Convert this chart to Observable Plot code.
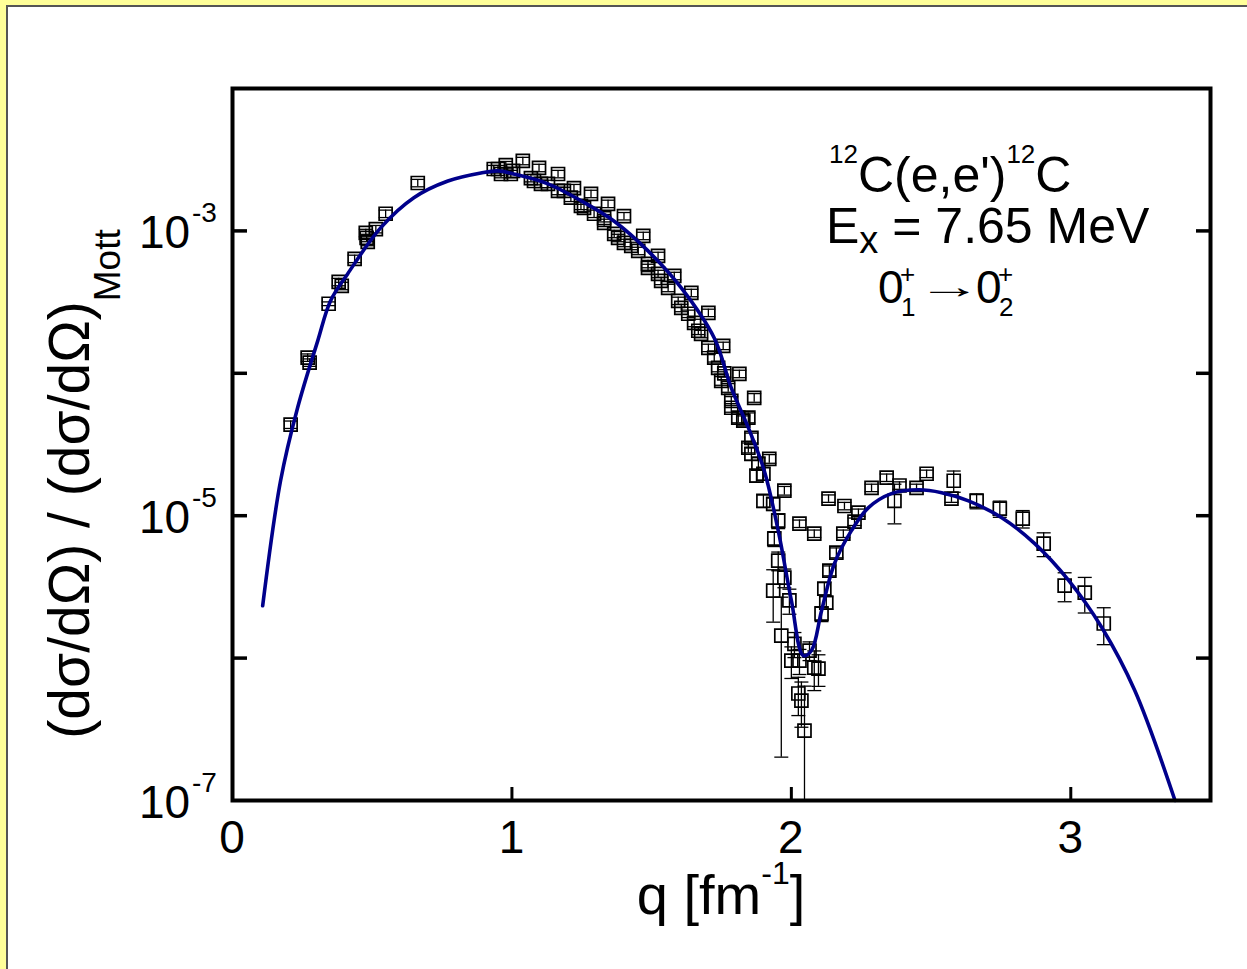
<!DOCTYPE html>
<html><head><meta charset="utf-8">
<script src="https://cdn.jsdelivr.net/npm/d3@7"></script>
<script src="https://cdn.jsdelivr.net/npm/@observablehq/plot@0.6"></script>
<style>
html,body{margin:0;padding:0;}
body{width:1247px;height:969px;background:#ffff99;position:relative;overflow:hidden;font-family:"Liberation Sans",Arial,sans-serif;}
#panel{position:absolute;left:6px;top:5px;right:0;bottom:0;background:#fff;border-left:2px solid #555;border-top:2px solid #555;}
#chart{position:absolute;left:0;top:0;}
</style></head><body><div id="panel"></div><div id="chart"></div>
<script>
// ---- data: measured points q [fm^-1], ratio, relative error ----
const qData = [0.208,0.269,0.276,0.344,0.380,0.391,0.437,0.477,0.480,0.484,0.513,0.548,0.663,
 0.950,0.961,0.978,1.004,1.039,1.068,1.097,1.129,1.165,1.186,1.222,1.247,1.283,1.330,1.344,1.366,1.401,1.427,1.470,1.487,1.523,1.534,1.581,1.606,1.642,1.652,1.677,1.703,
 1.724,1.749,1.756,1.785,1.814,1.810,1.846,1.867,1.857,1.857,1.875,1.900,1.921,1.975,1.900,1.935,1.953,1.939,1.953,1.975,1.935,1.993,1.964,2.011,2.000,2.029,2.082,2.025,2.036,2.047,
 2.029,2.082,2.133,2.190,2.240,2.287,2.341,2.387,2.448,2.484,2.369,2.581,2.573,2.663,2.746,2.828,2.903,2.978,3.050,3.118,
 2.186,2.161,2.136,2.118,2.125,2.108,2.065,2.097,2.226,
 0.935,0.996,1.079,1.104,1.165,1.211,1.258,1.294,1.330,1.380,1.401,1.452,1.487,1.523,1.559,1.595,1.631,1.667,1.703,1.738,1.774,1.760,1.785,1.828,1.846,1.882];
const yData = [4.36e-5,1.29e-4,1.19e-4,3.08e-4,4.38e-4,4.11e-4,6.37e-4,9.68e-4,8.93e-4,8.37e-4,1.03e-3,1.32e-3,2.17e-3,
 2.72e-3,2.51e-3,2.90e-3,2.64e-3,3.10e-3,2.35e-3,2.77e-3,2.14e-3,2.51e-3,1.91e-3,2.00e-3,1.50e-3,1.82e-3,1.23e-3,1.55e-3,9.53e-4,1.27e-3,7.85e-4,9.23e-4,5.50e-4,6.68e-4,4.46e-4,4.83e-4,2.88e-4,3.67e-4,2.26e-4,1.89e-4,2.66e-4,
 1.29e-4,8.86e-5,1.56e-4,6.41e-5,9.91e-5,4.88e-5,4.88e-5,6.73e-5,3.52e-5,2.72e-5,1.91e-5,1.97e-5,2.51e-5,1.50e-5,1.27e-5,1.21e-5,9.22e-6,6.90e-6,4.83e-6,3.67e-6,2.98e-6,2.54e-6,1.44e-6,1.26e-6,9.59e-7,9.59e-7,8.57e-7,5.64e-7,5.03e-7,3.10e-7,
 8.79e-6,7.48e-6,1.32e-5,1.17e-5,1.05e-5,1.57e-5,1.85e-5,1.63e-5,1.57e-5,1.97e-5,1.27e-5,1.76e-5,1.32e-5,1.27e-5,1.12e-5,9.53e-6,6.37e-6,3.23e-6,2.88e-6,1.75e-6,
 7.48e-6,5.50e-6,4.11e-6,3.08e-6,2.45e-6,2.05e-6,1.13e-6,8.44e-7,9.08e-6,
 2.72e-3,2.51e-3,2.24e-3,2.14e-3,1.91e-3,1.71e-3,1.45e-3,1.32e-3,1.14e-3,8.93e-4,8.24e-4,7.24e-4,5.86e-4,4.99e-4,3.98e-4,3.23e-4,2.62e-4,1.99e-4,1.51e-4,1.09e-4,7.91e-5,1.00e-4,5.73e-5,4.65e-5,3.00e-5,2.32e-5];
const relErr = [0.06,0.06,0.06,0.03,0.06,0.06,0.06,0.06,0.06,0.06,0.06,0.06,0.06,
 0.06,0.06,0.06,0.06,0.06,0.06,0.06,0.06,0.06,0.06,0.06,0.06,0.06,0.06,0.06,0.06,0.06,0.06,0.06,0.06,0.06,0.06,0.06,0.06,0.06,0.06,0.06,0.06,
 0.07,0.07,0.06,0.07,0.06,0.08,0.08,0.07,0.08,0.10,0.10,0.10,0.07,0.07,0.10,0.10,0.12,0.12,0.15,0.15,0.40,0.20,0.86,0.20,0.25,0.20,0.31,0.30,0.35,1.05,
 0.06,0.06,0.06,0.06,0.06,0.06,0.06,0.06,0.06,0.06,0.31,0.17,0.06,0.12,0.13,0.14,0.19,0.23,0.28,0.29,
 0.06,0.08,0.08,0.10,0.10,0.12,0.15,0.25,0.06,
 0.06,0.06,0.06,0.06,0.06,0.06,0.06,0.06,0.06,0.06,0.06,0.06,0.06,0.06,0.06,0.06,0.06,0.06,0.06,0.06,0.07,0.06,0.07,0.08,0.08,0.10];

// ---- theory curve ----
const qTheory = [0.108,0.172,0.233,0.305,0.351,0.412,0.530,0.649,0.771,0.889,0.950,1.007,1.129,1.247,1.366,1.487,1.606,1.724,1.785,1.846,1.903,1.953,2.000,2.043,2.072,2.108,2.154,2.215,2.276,2.358,2.455,2.538,2.634,2.753,2.871,2.993,3.111,3.229,3.373];
const yTheory = [2.33e-6,1.76e-5,5.73e-5,1.69e-4,3.23e-4,4.99e-4,1.05e-3,1.71e-3,2.24e-3,2.55e-3,2.64e-3,2.51e-3,2.14e-3,1.63e-3,1.17e-3,7.24e-4,3.98e-4,1.77e-4,7.91e-5,4.15e-5,2.07e-5,7.85e-6,2.54e-6,1.04e-6,1.13e-6,2.15e-6,4.60e-6,7.85e-6,1.14e-5,1.43e-5,1.52e-5,1.45e-5,1.27e-5,9.68e-6,6.37e-6,3.50e-6,1.64e-6,5.92e-7,1.0e-7];

// ---- axes ----
const xTicks = [0,1,2,3];
const yTickMarks = [1e-6,1e-5,1e-4,1e-3];
const yTickLabels = [1e-7,1e-5,1e-3];

const FONT = '"Liberation Sans", Arial, sans-serif';
const yMin = 1e-7;
const pts = qData.map((q,i)=>({q, y:yData[i], lo:Math.max(yData[i]*(1-relErr[i]), yMin), hi:yData[i]*(1+relErr[i]), clip: yData[i]*(1-relErr[i]) <= yMin}));
const theory = qTheory.map((q,i)=>({q, y:yTheory[i]}));

const boxSym = {draw(ctx,size){const s=Math.sqrt(size/Math.PI); ctx.rect(-s,-s,2*s,2*s);}};
const capSym = {draw(ctx,size){const s=Math.sqrt(size/Math.PI); ctx.moveTo(-s,0); ctx.lineTo(s,0);}};

const chart = Plot.plot({
  width:1247, height:969,
  marginLeft:232, marginRight:37, marginTop:88, marginBottom:169,
  style:{background:"transparent", fontFamily:FONT, overflow:"visible"},
  x:{domain:[0,3.5], label:null},
  y:{type:"log", domain:[1e-7,1e-2], label:null},
  marks:[
    Plot.ruleX(pts,{x:"q", y1:"lo", y2:"hi", stroke:"black", strokeWidth:1.3}),
    Plot.dot(pts.filter(d=>!d.clip),{x:"q", y:"lo", symbol:capSym, r:7, stroke:"black", strokeWidth:1.3}),
    Plot.dot(pts,{x:"q", y:"hi", symbol:capSym, r:7, stroke:"black", strokeWidth:1.3}),
    Plot.dot(pts,{x:"q", y:"y", symbol:boxSym, r:6.5, stroke:"black", fill:"none", strokeWidth:1.7}),
    Plot.line(theory,{x:"q", y:"y", curve:"catmull-rom", stroke:"#00008b", strokeWidth:3.6}),
    Plot.axisX({ticks:xTicks.filter(v=>v>0), tickSize:-13, tickFormat:()=>"", strokeWidth:3}),
    Plot.axisY({anchor:"left", ticks:yTickMarks, tickSize:-15, tickFormat:()=>"", strokeWidth:3.5}),
    Plot.axisY({anchor:"right", ticks:yTickMarks, tickSize:-15, tickFormat:()=>"", strokeWidth:3.5}),
    Plot.frame({stroke:"black", strokeWidth:4})
  ]
});
document.getElementById("chart").appendChild(chart);

const svg = d3.select(chart);
const xs = chart.scale("x"), ys = chart.scale("y");
const x0 = xs.apply(0);
const g = svg.append("g").attr("font-family", FONT).attr("fill","black").attr("text-anchor","start");

// y tick labels 10^n
for (const v of yTickLabels) {
  const py = ys.apply(v), e = Math.round(Math.log10(v));
  const t = g.append("text").attr("y", py+18).attr("font-size",46);
  t.append("tspan").attr("x", x0-93).text("10");
  t.append("tspan").attr("x", x0-40).attr("y", py-8).attr("font-size",28).text(String(e).replace("−","-"));
}
// x tick labels
for (const v of xTicks) {
  g.append("text").attr("x", xs.apply(v)).attr("y", ys.apply(1e-7)+53).attr("text-anchor","middle").attr("font-size",46).text(String(v));
}
// x title
const xt = g.append("text").attr("x", (xs.apply(0)+xs.apply(3.5))/2).attr("y", 914).attr("text-anchor","middle").attr("font-size",56);
xt.append("tspan").text("q [fm");
xt.append("tspan").attr("font-size",32).attr("dy",-30).text("-1");
xt.append("tspan").attr("dy",30).text("]");
// y title
const yt = g.append("text").attr("transform","translate(89,484) rotate(-90)").attr("text-anchor","middle").attr("font-size",57);
yt.append("tspan").text("(dσ/dΩ) / (dσ/dΩ)");
yt.append("tspan").attr("font-size",37).attr("dy",31).text("Mott");

// annotation
const a1 = g.append("text").attr("x",829).attr("y",192).attr("font-size",50);
a1.append("tspan").attr("font-size",26).attr("dy",-29).text("12");
a1.append("tspan").attr("dy",29).text("C(e,e')");
a1.append("tspan").attr("font-size",26).attr("dy",-29).text("12");
a1.append("tspan").attr("dy",29).text("C");
const a2 = g.append("text").attr("x",826).attr("y",243).attr("font-size",50);
a2.append("tspan").text("E");
a2.append("tspan").attr("font-size",38).attr("dy",10).text("x");
a2.append("tspan").attr("dy",-10).text(" = 7.65 MeV");
// 0_1^+ -> 0_2^+
const a3y = 303;
const a3 = g.append("text").attr("y",a3y).attr("font-size",46);
a3.append("tspan").attr("x",878).attr("y",a3y).text("0");
a3.append("tspan").attr("x",901).attr("y",a3y+13).attr("font-size",26).text("1");
a3.append("tspan").attr("x",900).attr("y",a3y-20).attr("font-size",26).text("+");
a3.append("tspan").attr("x",976).attr("y",a3y).text("0");
a3.append("tspan").attr("x",999).attr("y",a3y+13).attr("font-size",26).text("2");
a3.append("tspan").attr("x",998).attr("y",a3y-20).attr("font-size",26).text("+");
g.append("text").attr("transform",`translate(917,${a3y-5}) scale(1.9,1)`).attr("font-size",34).text("→");
</script></body></html>
